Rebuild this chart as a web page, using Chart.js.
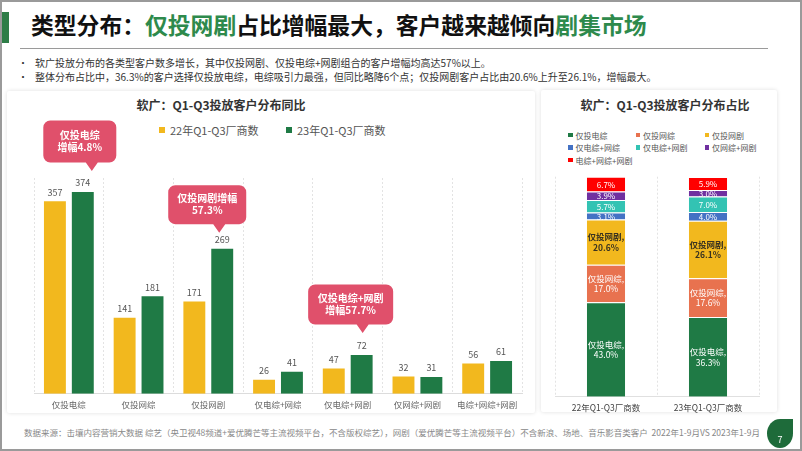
<!DOCTYPE html>
<html><head><meta charset="utf-8">
<script src="https://cdn.jsdelivr.net/npm/chart.js@4/dist/chart.umd.min.js"></script>
<style>
html,body{margin:0;padding:0;background:#fff;}
body{width:802px;height:451px;overflow:hidden;font-family:"Noto Sans CJK SC","Noto Sans",sans-serif;}
#slide{position:relative;width:802px;height:451px;background:#fff;overflow:hidden;}
.abs{position:absolute;white-space:nowrap;}
.card{position:absolute;background:#fff;box-shadow:0 0 4px rgba(0,0,0,0.13);border-radius:2px;}
#frame{position:absolute;left:0;top:0;width:802px;height:451px;box-sizing:border-box;border:2px solid #9a9a9a;pointer-events:none;}
.lg{position:absolute;display:flex;align-items:center;white-space:nowrap;color:#555;}
.sw{display:inline-block;}
</style></head>
<body>
<div id="slide">
  <div class="abs" style="left:0;top:12px;width:9px;height:31px;background:#2E7D47;"></div>
  <div class="abs" style="left:31px;top:13px;font-size:22.8px;line-height:23px;font-weight:bold;color:#111;">类型分布：<span style="color:#2E8A4C">仅投网剧</span>占比增幅最大，客户越来越倾向<span style="color:#2E8A4C">剧集市场</span></div>
  <div class="abs" style="left:20px;top:48px;width:748px;height:1px;background:#9a9a9a;"></div>
  <div class="abs" style="left:18px;top:56px;font-size:10px;line-height:14px;color:#333;">•</div>
  <div class="abs" style="left:35px;top:56px;font-size:10px;line-height:14px;color:#333;">软广投放分布的各类型客户数多增长，其中仅投网剧、仅投电综+网剧组合的客户增幅均高达57%以上。</div>
  <div class="abs" style="left:18px;top:70px;font-size:10px;line-height:14px;color:#333;">•</div>
  <div class="abs" style="left:35px;top:70px;font-size:10px;line-height:14px;color:#333;">整体分布占比中，36.3%的客户选择仅投放电综，电综吸引力最强，但同比略降6个点；仅投网剧客户占比由20.6%上升至26.1%，增幅最大。</div>

  <div class="card" style="left:7px;top:91px;width:528px;height:322px;"></div>
  <div class="card" style="left:541px;top:90px;width:236px;height:322px;"></div>

  <div class="abs" style="left:121px;top:97px;width:200px;text-align:center;font-size:12px;line-height:16px;font-weight:bold;color:#333;">软广：Q1-Q3投放客户分布同比</div>
  <div id="legendL"></div>
  <div class="abs" style="left:565px;top:97px;width:200px;text-align:center;font-size:12px;line-height:16px;font-weight:bold;color:#333;">软广：Q1-Q3投放客户分布占比</div>
  <div id="legendR"></div>

  <canvas id="cL" class="abs" style="left:7px;top:110px;"></canvas>
  <canvas id="cR" class="abs" style="left:541px;top:170px;"></canvas>

  <div class="abs" style="left:24px;top:427px;font-size:8.5px;line-height:11px;color:#888;">数据来源：击壤内容营销大数据 综艺（央卫视48频道+爱优腾芒等主流视频平台，不含版权综艺），网剧（爱优腾芒等主流视频平台）不含新浪、场地、音乐影音类客户&nbsp; 2022年1-9月VS 2023年1-9月</div>
  <div class="abs" style="left:767px;top:419px;width:26px;height:29px;background:#1E6B3A;border-radius:50% 0 50% 50%;"></div>
  <div class="abs" style="left:767px;top:434px;width:26px;text-align:center;font-size:9px;line-height:12px;color:#fff;">7</div>
  <div id="frame"></div>
</div>
<script>
// ---- data ----
const categories = ['仅投电综','仅投网综','仅投网剧','仅电综+网综','仅电综+网剧','仅网综+网剧','电综+网综+网剧'];
const seriesNames = ['22年Q1-Q3厂商数','23年Q1-Q3厂商数'];
const counts22 = [357,141,171,26,47,32,56];
const counts23 = [374,181,269,41,72,31,61];

const shareCategories = ['22年Q1-Q3厂商数','23年Q1-Q3厂商数'];
const shareSegments = ['仅投电综','仅投网综','仅投网剧','仅电综+网综','仅电综+网剧','仅网综+网剧','电综+网综+网剧'];
const share22 = [43.0,17.0,20.6,3.1,5.7,3.9,6.7];
const share23 = [36.3,17.6,26.1,4.0,7.0,3.0,5.9];

const callouts = [
  {cat:0, lines:['仅投电综','增幅4.8%']},
  {cat:2, lines:['仅投网剧增幅','57.3%']},
  {cat:4, lines:['仅投电综+网剧','增幅57.7%']}
];

// ---- styles ----
const FONT = '"Noto Sans CJK SC","Noto Sans",sans-serif';
Chart.defaults.font.family = FONT;
const barColors = ['#F2B81E','#1F7A45'];
const segColors = ['#1F7A45','#E8724F','#F2B81E','#4472C4','#33C3B3','#7030A0','#FF0000'];
const calloutStyle = [
  {w:73,h:42,gap:21,dx:9},
  {w:78,h:39,gap:16,dx:-3},
  {w:85,h:40,gap:22,dx:1}
];

// ---- legends (HTML) ----
(function(){
  const L = document.getElementById('legendL');
  const pos = [[159,129.5],[286,129.5]];
  seriesNames.forEach((n,i)=>{
    const d=document.createElement('div'); d.className='lg';
    d.style.left=pos[i][0]+'px'; d.style.top=(pos[i][1]-8)+'px'; d.style.height='16px'; d.style.fontSize='11px';
    d.innerHTML='<span class="sw" style="width:6px;height:6px;background:'+barColors[i]+';margin-right:5px"></span>'+n;
    L.appendChild(d);
  });
  const R = document.getElementById('legendR');
  const cols=[568,635.5,704.5], rows=[135,147.5,160];
  shareSegments.forEach((n,i)=>{
    const d=document.createElement('div'); d.className='lg';
    d.style.left=cols[i%3]+'px'; d.style.top=(rows[Math.floor(i/3)]-6)+'px'; d.style.height='12px'; d.style.fontSize='8px';
    d.innerHTML='<span class="sw" style="width:4.5px;height:4.5px;background:'+segColors[i]+';margin-right:3px"></span>'+n;
    R.appendChild(d);
  });
})();

// ---- plugins ----
const valueLabels = {
  id:'valueLabels',
  afterDatasetsDraw(chart){
    const ctx=chart.ctx; ctx.save();
    ctx.font='9px '+FONT; ctx.fillStyle='#555'; ctx.textAlign='center'; ctx.textBaseline='middle';
    chart.data.datasets.forEach((ds,di)=>{
      chart.getDatasetMeta(di).data.forEach((el,i)=>{ ctx.fillText(String(ds.data[i]), el.x, el.y-9); });
    });
    ctx.restore();
  }
};
const calloutPlugin = {
  id:'callouts',
  afterDatasetsDraw(chart){
    const ctx=chart.ctx; ctx.save();
    const meta=chart.getDatasetMeta(1);
    callouts.forEach((c,k)=>{
      const st=calloutStyle[k]; const el=meta.data[c.cat];
      const tx=el.x+st.dx, ty=el.y-st.gap;
      const h=st.h, w=st.w, ph=8.5;
      const cx=tx-12, x=cx-w/2, y=ty-ph-h, r=7;
      ctx.beginPath();
      ctx.moveTo(x+r,y); ctx.lineTo(x+w-r,y); ctx.arcTo(x+w,y,x+w,y+r,r);
      ctx.lineTo(x+w,y+h-r); ctx.arcTo(x+w,y+h,x+w-r,y+h,r);
      ctx.lineTo(tx+6,y+h); ctx.lineTo(tx,ty); ctx.lineTo(tx-6,y+h);
      ctx.lineTo(x+r,y+h); ctx.arcTo(x,y+h,x,y+h-r,r);
      ctx.lineTo(x,y+r); ctx.arcTo(x,y,x+r,y,r); ctx.closePath();
      ctx.fillStyle='#E0506B'; ctx.fill();
      ctx.fillStyle='#fff'; ctx.font='bold 10px '+FONT; ctx.textAlign='center'; ctx.textBaseline='middle';
      ctx.fillText(c.lines[0], cx, y+h/2-6);
      ctx.fillText(c.lines[1], cx, y+h/2+6);
    });
    ctx.restore();
  }
};
const stackLabels = {
  id:'stackLabels',
  afterDatasetsDraw(chart){
    const ctx=chart.ctx; ctx.save();
    ctx.textAlign='center'; ctx.textBaseline='middle';
    chart.data.datasets.forEach((ds,di)=>{
      chart.getDatasetMeta(di).data.forEach((el,i)=>{
        const v=ds.data[i]; const mid=(el.y+el.base)/2;
        const pct=v.toFixed(1)+'%';
        ctx.fillStyle = di===2 ? '#3a3320' : '#fff';
        if(di<3){
          ctx.font=(di===2?'bold ':'')+'8.5px '+FONT;
          ctx.fillText(ds.label+',', el.x, mid-5);
          ctx.fillText(pct, el.x, mid+5.5);
        } else {
          ctx.font='8px '+FONT;
          ctx.fillText(pct, el.x, mid+0.5);
        }
      });
    });
    ctx.restore();
  }
};

// ---- left chart ----
const cL=document.getElementById('cL'); cL.width=528; cL.height=310;
new Chart(cL,{
  type:'bar',
  data:{labels:categories,datasets:[
    {label:seriesNames[0],data:counts22,backgroundColor:barColors[0],categoryPercentage:0.8,barPercentage:0.786},
    {label:seriesNames[1],data:counts23,backgroundColor:barColors[1],categoryPercentage:0.8,barPercentage:0.786}
  ]},
  options:{
    responsive:false,animation:false,maintainAspectRatio:false,
    layout:{padding:{left:27,right:13,top:68,bottom:4}},
    plugins:{legend:{display:false},tooltip:{enabled:false},title:{display:false}},
    scales:{
      x:{grid:{display:true,color:'#e3e3e3',lineWidth:1,drawTicks:false,offset:true},
         border:{display:true,color:'#dcdcdc',dash:[2,2]},
         ticks:{color:'#666',font:{size:8.5},padding:6,maxRotation:0,autoSkip:false}},
      y:{display:false,min:0,max:400,grid:{display:false}}
    }
  },
  plugins:[valueLabels,calloutPlugin]
});

// ---- right chart ----
const cR=document.getElementById('cR'); cR.width=236; cR.height=252;
new Chart(cR,{
  type:'bar',
  data:{labels:shareCategories,datasets:shareSegments.map((n,i)=>({
    label:n,data:[share22[i],share23[i]],backgroundColor:segColors[i],
    borderColor:'#ffffff',borderWidth:{top:1,bottom:0,left:0,right:0},borderSkipped:false,
    categoryPercentage:0.75,barPercentage:0.5
  }))},
  options:{
    responsive:false,animation:false,maintainAspectRatio:false,
    layout:{padding:{left:14,right:18,top:6.7,bottom:3}},
    plugins:{legend:{display:false},tooltip:{enabled:false}},
    scales:{
      x:{stacked:true,grid:{display:true,color:'#e3e3e3',drawTicks:false,offset:true},
         border:{display:true,color:'#e0e0e0',dash:[2,2]},
         ticks:{color:'#444',font:{size:8.5},padding:6,maxRotation:0}},
      y:{stacked:true,display:false,min:0,max:100}
    }
  },
  plugins:[stackLabels]
});
</script>
</body></html>
